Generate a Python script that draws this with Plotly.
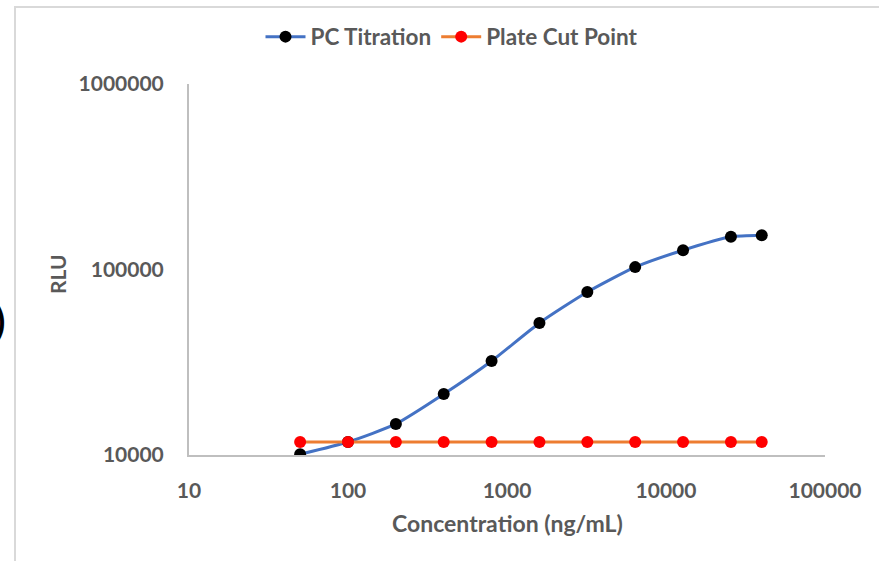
import plotly.graph_objects as go

concentration = [50, 100, 200, 400, 800, 1600, 3200, 6400, 12800, 25600, 40000]
pc_titration = [10100, 11750, 14700, 21300, 32100, 51500, 75600, 103000, 127000, 150000, 153000]
plate_cut_point = [11750] * len(concentration)

x_tickvals = [10, 100, 1000, 10000, 100000]
x_ticktext = ["10", "100", "1000", "10000", "100000"]
y_tickvals = [10000, 100000, 1000000]
y_ticktext = ["10000", "100000", "1000000"]

FONT = "Lato"
GRAY = "#595959"

fig = go.Figure()
fig.add_trace(go.Scatter(
    x=concentration, y=pc_titration, name="PC Titration",
    mode="lines+markers", line=dict(color="#4472C4", width=3, shape="spline", smoothing=0.6),
    marker=dict(color="black", size=12),
))
fig.add_trace(go.Scatter(
    x=concentration, y=plate_cut_point, name="Plate Cut Point",
    mode="lines+markers", line=dict(color="#ED7D31", width=3),
    marker=dict(color="#FF0000", size=12),
))

L, R, T, B = 189, 54, 84, 106
W, H = 879, 561
pw, ph = W - L - R, H - T - B

def px(xp):
    return (xp - L) / pw

def py(yp):
    return (H - B - yp) / ph

fig.update_layout(
    width=W, height=H,
    margin=dict(l=L, r=R, t=T, b=B),
    paper_bgcolor="white", plot_bgcolor="white",
    font=dict(family=FONT, color=GRAY, size=18),
    showlegend=True,
    legend=dict(orientation="h", x=px(452), xanchor="center", y=py(37), yanchor="middle",
                font=dict(family=FONT, size=22.5, color=GRAY, weight="bold"),
                itemwidth=40, bgcolor="rgba(0,0,0,0)", tracegroupgap=0),
    xaxis=dict(type="log", range=[1, 5], tickvals=x_tickvals, ticktext=x_ticktext,
               showgrid=False, zeroline=False, showline=True, linecolor="#bfbfbf", linewidth=2,
               ticks="", tickfont=dict(family=FONT, size=21, color=GRAY, weight="bold"),
               ticklabelstandoff=16),
    yaxis=dict(type="log", range=[4, 6], tickvals=y_tickvals, ticktext=y_ticktext,
               showgrid=False, zeroline=False, showline=True, linecolor="#bfbfbf", linewidth=2,
               ticks="", tickfont=dict(family=FONT, size=21, color=GRAY, weight="bold"),
               ticklabelstandoff=19),
    annotations=[
        dict(text="RLU", xref="paper", yref="paper", x=px(57), y=py(274), textangle=-90,
             showarrow=False, xanchor="center", yanchor="middle",
             font=dict(family=FONT, size=21, color=GRAY, weight="bold")),
        dict(text="Concentration (ng/mL)", xref="paper", yref="paper", x=px(507), y=py(523),
             showarrow=False, xanchor="center", yanchor="middle",
             font=dict(family=FONT, size=23, color=GRAY, weight="bold")),
        dict(text=")", xref="paper", yref="paper", x=px(7), y=py(320), showarrow=False,
             xanchor="right", yanchor="middle", font=dict(family=FONT, size=38, color="black", weight="bold")),
    ],
    shapes=[
        dict(type="rect", xref="paper", yref="paper", x0=px(15), y0=py(600), x1=px(900), y1=py(7),
             line=dict(color="#d9d9d9", width=2), fillcolor="rgba(0,0,0,0)", layer="below"),
    ],
)

fig.write_html("out.html")
